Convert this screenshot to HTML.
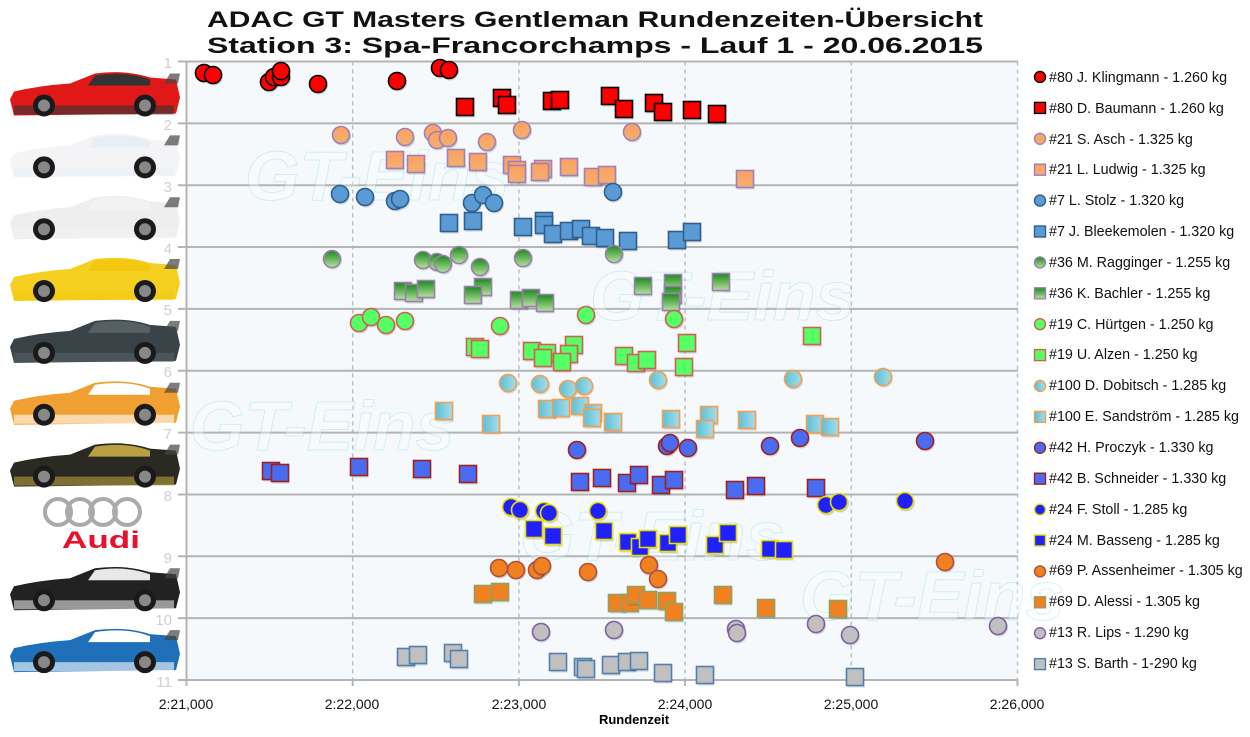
<!DOCTYPE html>
<html><head><meta charset="utf-8"><style>
html,body{margin:0;padding:0;background:#fff;}
svg{display:block;font-family:"Liberation Sans",Arial,sans-serif;}
</style></head><body>
<svg id="s" width="1250" height="737" viewBox="0 0 1250 737" xmlns="http://www.w3.org/2000/svg">
<defs>
<linearGradient id="gOr" x1="0" y1="0" x2="0" y2="1"><stop offset="0" stop-color="#ffa060"/><stop offset="1" stop-color="#f0b070"/></linearGradient>
<linearGradient id="gGr" x1="0" y1="0" x2="0" y2="1"><stop offset="0" stop-color="#1a8a1a"/><stop offset="1" stop-color="#b8e0a0"/></linearGradient>
<linearGradient id="gCy" x1="0" y1="0" x2="1" y2="0"><stop offset="0" stop-color="#5cc0d8"/><stop offset="1" stop-color="#a8dce8"/></linearGradient>
</defs>
<rect x="186.5" y="61.5" width="831" height="618.5" fill="#f5f9fb"/>
<g id="grid"></g>
<g id="cars"></g>
<g fill="#cfcfcf" font-size="15" text-anchor="end">
<text x="172" y="68">1</text><text x="172" y="130">2</text><text x="172" y="192">3</text><text x="172" y="254">4</text><text x="172" y="315">5</text><text x="172" y="377">6</text><text x="172" y="439">7</text><text x="172" y="501">8</text><text x="172" y="563">9</text><text x="172" y="625">10</text><text x="172" y="687">11</text>
</g>
<g fill="#ffffff" stroke="#8adbea" stroke-width="1" opacity="0.35" font-size="70" font-style="italic" font-weight="bold">
<text x="245" y="200">GT-Eins</text><text x="590" y="320">GT-Eins</text><text x="190" y="450">GT-Eins</text><text x="520" y="560">GT-Eins</text><text x="800" y="620">GT-Eins</text>
</g>
<g id="pts"></g>
<g font-size="14" fill="#111">
<text x="186" y="709" text-anchor="middle">2:21,000</text>
<text x="352" y="709" text-anchor="middle">2:22,000</text>
<text x="519" y="709" text-anchor="middle">2:23,000</text>
<text x="685" y="709" text-anchor="middle">2:24,000</text>
<text x="851" y="709" text-anchor="middle">2:25,000</text>
<text x="1017" y="709" text-anchor="middle">2:26,000</text>
</g>
<text x="634" y="724" font-size="13" font-weight="bold" text-anchor="middle">Rundenzeit</text>
<g font-weight="bold" font-size="22" fill="#111" text-anchor="middle">
<text x="595" y="27" textLength="776" lengthAdjust="spacingAndGlyphs">ADAC GT Masters Gentleman Rundenzeiten-Übersicht</text>
<text x="595" y="53" textLength="776" lengthAdjust="spacingAndGlyphs">Station 3: Spa-Francorchamps - Lauf 1 - 20.06.2015</text>
</g>
<g id="leg" font-size="14.3" fill="#111">
<text x="1049" y="82">#80 J. Klingmann - 1.260 kg</text>
<text x="1049" y="113">#80 D. Baumann - 1.260 kg</text>
<text x="1049" y="144">#21 S. Asch - 1.325 kg</text>
<text x="1049" y="174">#21 L. Ludwig - 1.325 kg</text>
<text x="1049" y="205">#7 L. Stolz - 1.320 kg</text>
<text x="1049" y="236">#7 J. Bleekemolen - 1.320 kg</text>
<text x="1049" y="267">#36 M. Ragginger - 1.255 kg</text>
<text x="1049" y="298">#36 K. Bachler - 1.255 kg</text>
<text x="1049" y="329">#19 C. Hürtgen - 1.250 kg</text>
<text x="1049" y="359">#19 U. Alzen - 1.250 kg</text>
<text x="1049" y="390">#100 D. Dobitsch - 1.285 kg</text>
<text x="1049" y="421">#100 E. Sandström - 1.285 kg</text>
<text x="1049" y="452">#42 H. Proczyk - 1.330 kg</text>
<text x="1049" y="483">#42 B. Schneider - 1.330 kg</text>
<text x="1049" y="514">#24 F. Stoll - 1.285 kg</text>
<text x="1049" y="545">#24 M. Basseng - 1.285 kg</text>
<text x="1049" y="575">#69 P. Assenheimer - 1.305 kg</text>
<text x="1049" y="606">#69 D. Alessi - 1.305 kg</text>
<text x="1049" y="637">#13 R. Lips - 1.290 kg</text>
<text x="1049" y="668">#13 S. Barth - 1-290 kg</text>
</g>
<g>
<circle cx="80" cy="512" r="13" fill="none" stroke="#aaa" stroke-width="4"/>
<circle cx="58" cy="512" r="13" fill="none" stroke="#aaa" stroke-width="4"/>
<circle cx="103" cy="512" r="13" fill="none" stroke="#aaa" stroke-width="4"/>
<circle cx="127" cy="512" r="13" fill="none" stroke="#aaa" stroke-width="4"/>
<text x="101" y="548" font-size="24" font-weight="bold" fill="#e8102a" text-anchor="middle" textLength="78" lengthAdjust="spacingAndGlyphs">Audi</text>
</g>
</svg>
<script>
var NS="http://www.w3.org/2000/svg";
function el(p,t,a){var e=document.createElementNS(NS,t);for(var k in a)e.setAttribute(k,a[k]);p.appendChild(e);return e;}
var g=document.getElementById('grid');
for(var k=1;k<=5;k++){var x=186.5+166.2*k;el(g,'line',{x1:x,y1:61.5,x2:x,y2:680,stroke:'#bdbdbd','stroke-width':1.5,'stroke-dasharray':'4,4'});}
for(var k=0;k<=10;k++){var y=61.5+61.85*k;el(g,'line',{x1:178,y1:y,x2:1018,y2:y,stroke:'#b4b4b4','stroke-width':2});}
el(g,'line',{x1:186.5,y1:61.5,x2:186.5,y2:680,stroke:'#b4b4b4','stroke-width':2});
for(var k=0;k<=5;k++){var x=186.5+166.2*k;el(g,'line',{x1:x,y1:680,x2:x,y2:686,stroke:'#b4b4b4','stroke-width':2});}
var cg=document.getElementById('cars');
var cars=[[0,'#e01818','#333'],[1,'#f4f4f6','#e8eef6'],[2,'#eeeeee','#f2f2f2'],[3,'#f6d020','#f4c810'],[4,'#3a4448','#556065'],[5,'#f0a030','#ffffff'],[6,'#2a2a22','#b8a040'],[8,'#222','#e8e8e8'],[9,'#1f70b8','#ffffff']];
cars.forEach(function(c){var t=61.5+61.85*c[0];
 el(cg,'path',{d:'M10 '+(t+38)+' L14 '+(t+30)+' Q40 '+(t+24)+' 70 '+(t+22)+' L95 '+(t+12)+' Q125 '+(t+8)+' 150 '+(t+16)+' L176 '+(t+18)+' L180 '+(t+36)+' L176 '+(t+52)+' L14 '+(t+54)+' Z',fill:c[1]});
 el(cg,'path',{d:'M95 '+(t+14)+' Q125 '+(t+9)+' 150 '+(t+18)+' L150 '+(t+24)+' L88 '+(t+24)+' Z',fill:c[2]});
 el(cg,'rect',{x:14,y:t+44,width:160,height:9,fill:c[2],opacity:0.6});
 el(cg,'circle',{cx:44,cy:t+44,r:11,fill:'#1a1a1a'});el(cg,'circle',{cx:44,cy:t+44,r:6,fill:'#888'});
 el(cg,'circle',{cx:145,cy:t+44,r:11,fill:'#1a1a1a'});el(cg,'circle',{cx:145,cy:t+44,r:6,fill:'#888'});
 el(cg,'path',{d:'M164 '+(t+22)+' L170 '+(t+12)+' L180 '+(t+12)+' L178 '+(t+22)+' Z',fill:'#444',opacity:0.7});
});
var S=[
['c','#ff0000','#000',[[204,73],[213,75],[269,82],[274,77],[281,77],[281,71],[318,84],[397,81],[440,68],[449,70]]],
['s','#ff0000','#000',[[465,107],[502,98],[507,105],[552,101],[560,100],[610,96],[624,109],[654,103],[663,112],[692,110],[717,114]]],
['c','url(#gOr)','#a080b8',[[341,135],[405,137],[433,133],[437,140],[448,138],[487,142],[522,130],[632,132]]],
['s','url(#gOr)','#a080b8',[[395,160],[416,164],[456,158],[478,162],[512,165],[517,170],[517,174],[543,169],[540,172],[569,167],[593,177],[607,175],[745,179]]],
['c','#5b9bd5','#2e5f8f',[[340,194],[365,197],[395,201],[400,199],[472,203],[483,195],[494,203],[613,192]]],
['s','#5b9bd5','#2e5f8f',[[449,223],[473,221],[523,227],[544,221],[544,225],[553,234],[569,231],[581,229],[591,236],[605,238],[628,241],[677,240],[692,232]]],
['c','url(#gGr)','#9a80b0',[[332,259],[423,260],[437,262],[443,264],[459,255],[480,267],[523,258],[614,254]]],
['s','url(#gGr)','#9a80b0',[[403,291],[414,293],[426,289],[483,287],[473,295],[519,300],[531,298],[545,303],[643,286],[673,283],[673,295],[671,302],[721,282]]],
['c','#55ff66','#d06050',[[359,323],[371,317],[386,325],[405,321],[500,326],[586,315],[674,319]]],
['s','#55ff66','#d06050',[[475,347],[480,349],[532,351],[547,353],[543,358],[574,345],[569,354],[562,362],[624,356],[636,363],[647,360],[687,343],[684,367],[812,336]]],
['c','url(#gCy)','#f0a050',[[508,383],[540,384],[568,389],[584,386],[658,380],[793,379],[883,377]]],
['s','url(#gCy)','#f0a050',[[444,411],[491,424],[547,409],[561,408],[580,406],[593,413],[592,418],[613,422],[671,419],[709,415],[705,429],[747,420],[815,424],[830,427]]],
['c','#4a6cf0','#a02020',[[577,450],[667,446],[670,443],[688,448],[770,446],[800,438],[925,441]]],
['s','#4a6cf0','#a02020',[[271,471],[280,473],[359,467],[422,469],[468,474],[580,482],[602,478],[627,483],[639,475],[661,485],[674,480],[735,490],[756,486],[816,488]]],
['c','#2020ff','#e8e000',[[511,507],[520,510],[544,511],[549,513],[598,511],[826,505],[839,502],[905,501]]],
['s','#2020ff','#e8e000',[[534,529],[553,536],[604,531],[628,542],[640,547],[648,539],[668,543],[678,535],[715,545],[728,533],[770,549],[784,550]]],
['c','#f08020','#b05040',[[499,568],[516,570],[537,570],[542,566],[588,572],[649,565],[658,579],[945,562]]],
['s','#f08020','#90a060',[[483,594],[500,592],[617,603],[630,603],[636,595],[648,600],[667,601],[674,612],[723,595],[766,608],[838,609]]],
['c','#c0c0c0','#8060a0',[[541,632],[614,630],[736,629],[737,633],[816,624],[850,635],[998,626]]],
['s','#c0c0c0','#5080b0',[[406,657],[418,655],[453,653],[459,659],[558,662],[583,667],[586,669],[611,665],[627,662],[639,661],[663,673],[705,675],[855,677]]]
];
var pg=document.getElementById('pts');
S.forEach(function(s,i){
 s[3].forEach(function(p){
  if(s[0]=='c'){el(pg,'circle',{cx:p[0]+1,cy:p[1]+1.5,r:9,fill:'#000',opacity:0.15});el(pg,'circle',{cx:p[0],cy:p[1],r:8.5,fill:s[1],stroke:s[2],'stroke-width':1.6});}
  else{el(pg,'rect',{x:p[0]-7.5,y:p[1]-6.5,width:17,height:17,fill:'#000',opacity:0.15});el(pg,'rect',{x:p[0]-8.5,y:p[1]-8.5,width:17,height:17,fill:s[1],stroke:s[2],'stroke-width':1.6});}
 });
 var ly=77+30.9*i;
 if(s[0]=='c')el(pg,'circle',{cx:1040,cy:ly,r:5.5,fill:s[1],stroke:s[2],'stroke-width':1.4});
 else el(pg,'rect',{x:1034.5,y:ly-5.5,width:11,height:11,fill:s[1],stroke:s[2],'stroke-width':1.4});
});
</script>
</body></html>
